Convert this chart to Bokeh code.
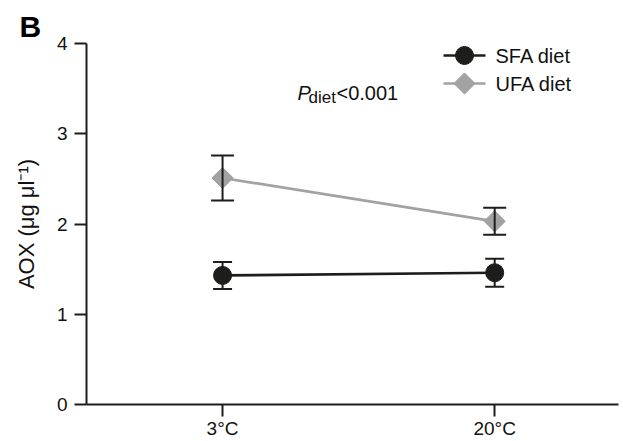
from bokeh.plotting import figure
from bokeh.models import Range1d, FixedTicker, Label
from bokeh.core.properties import value
from bokeh.embed import file_html
from bokeh.resources import INLINE
import numpy as np

# ---- data ----
categories = ["3°C", "20°C"]
sfa_mean = [1.43, 1.46]
sfa_err = [0.15, 0.155]
ufa_mean = [2.51, 2.03]
ufa_err = [0.25, 0.15]
y_ticks = [0, 1, 2, 3, 4]
series_labels = ["SFA diet", "UFA diet"]

FONT = "Liberation Sans"
DARK = "#1d1d1b"
GRAY = "#a2a2a2"

# ---- layout (pixels) ----
W, H = 623, 441
BL, BR, BT, BB = 86, 5, 43, 37
X0, X1 = 0.5, 2.455
Y0, Y1 = 0, 4
FW, FH = W - BL - BR, H - BT - BB

def px_to_x(px):  # frame-relative px -> data x
    return X0 + px * (X1 - X0) / FW

def px_to_y(py):  # frame-relative px from bottom -> data y
    return Y0 + py * (Y1 - Y0) / FH

xpos = list(np.arange(len(categories)) + 1)

p = figure(width=W, height=H, output_backend="svg", toolbar_location=None,
           x_range=Range1d(X0, X1), y_range=Range1d(Y0, Y1),
           min_border_left=BL, min_border_right=BR, min_border_top=BT, min_border_bottom=BB)
p.outline_line_color = None
p.xgrid.visible = False
p.ygrid.visible = False
p.background_fill_color = "white"

# panel letter as title
p.title.text = "B"
p.title.text_font = FONT
p.title.text_font_size = "30px"
p.title.text_font_style = "bold"
p.title.text_color = "black"
p.title.align = "left"
p.title.offset = -67
p.title.standoff = 2

for ax in (p.xaxis[0], p.yaxis[0]):
    ax.axis_line_width = 2
    ax.axis_line_color = DARK
    ax.major_tick_line_width = 2
    ax.major_tick_line_color = DARK
    ax.major_tick_out = 12
    ax.major_tick_in = 0
    ax.minor_tick_line_color = None
    ax.major_label_text_font = FONT
    ax.major_label_text_font_size = "19px"
    ax.major_label_text_color = "#111111"

p.yaxis[0].ticker = FixedTicker(ticks=y_ticks)
p.yaxis[0].major_label_standoff = 7
p.xaxis[0].ticker = FixedTicker(ticks=xpos)
p.xaxis[0].major_label_overrides = {int(x): c for x, c in zip(xpos, categories)}
p.xaxis[0].major_label_standoff = 1

p.yaxis[0].axis_label = "AOX (μg μl⁻¹)"
p.yaxis[0].axis_label_text_font = FONT
p.yaxis[0].axis_label_text_font_size = "22px"
p.yaxis[0].axis_label_text_font_style = "normal"
p.yaxis[0].axis_label_text_color = "#111111"
p.yaxis[0].axis_label_standoff = 15

SFA_STYLE = dict(marker="circle", size=18, angle=0, color=DARK)
UFA_STYLE = dict(marker="square", size=15, angle=np.pi / 4, color=GRAY)

def draw_line(xs, ys, st):
    p.line(xs, ys, line_color=st["color"], line_width=2.7)

def draw_markers(xs, ys, st):
    p.scatter(xs, ys, marker=st["marker"], size=st["size"], angle=st["angle"],
              fill_color=st["color"], line_color=st["color"])

# connecting lines + markers
draw_line(xpos, sfa_mean, SFA_STYLE)
draw_line(xpos, ufa_mean, UFA_STYLE)
draw_markers(xpos, sfa_mean, SFA_STYLE)
draw_markers(xpos, ufa_mean, UFA_STYLE)

# error bars (drawn on top)
def error_bars(means, errs, cap):
    lo = [m - e for m, e in zip(means, errs)]
    hi = [m + e for m, e in zip(means, errs)]
    p.segment(xpos, lo, xpos, hi, line_color=DARK, line_width=2)
    p.scatter(xpos, lo, marker="dash", size=cap, line_color=DARK, line_width=2)
    p.scatter(xpos, hi, marker="dash", size=cap, line_color=DARK, line_width=2)

error_bars(sfa_mean, sfa_err, 19)
error_bars(ufa_mean, ufa_err, 23)

# legend (manual, so markers keep their size/rotation)
LEG_X, LEG_LEN, LEG_TXT = 357, 42, 52
LEG_ROWS = [349, 321]
for lab, st, ry in zip(series_labels, [SFA_STYLE, UFA_STYLE], LEG_ROWS):
    yy = px_to_y(ry)
    draw_line([px_to_x(LEG_X), px_to_x(LEG_X + LEG_LEN)], [yy, yy], st)
    draw_markers([px_to_x(LEG_X + LEG_LEN / 2)], [yy], st)
    p.text([px_to_x(LEG_X + LEG_TXT)], [yy], text=[lab], text_font=value(FONT),
           text_font_size="20px", text_color="#111111", text_baseline="middle",
           text_align="left")

# P_diet annotation
p.add_layout(Label(x=211, y=312, x_units="screen", y_units="screen", text="P",
                   text_font=FONT, text_font_size="20px", text_font_style="italic",
                   text_color="#111111", text_baseline="alphabetic"))
p.add_layout(Label(x=222, y=307, x_units="screen", y_units="screen", text="diet",
                   text_font=FONT, text_font_size="17px",
                   text_color="#111111", text_baseline="alphabetic"))
p.add_layout(Label(x=250, y=312, x_units="screen", y_units="screen", text="<0.001",
                   text_font=FONT, text_font_size="20px",
                   text_color="#111111", text_baseline="alphabetic"))

open("out.html", "w").write(file_html(p, INLINE))
